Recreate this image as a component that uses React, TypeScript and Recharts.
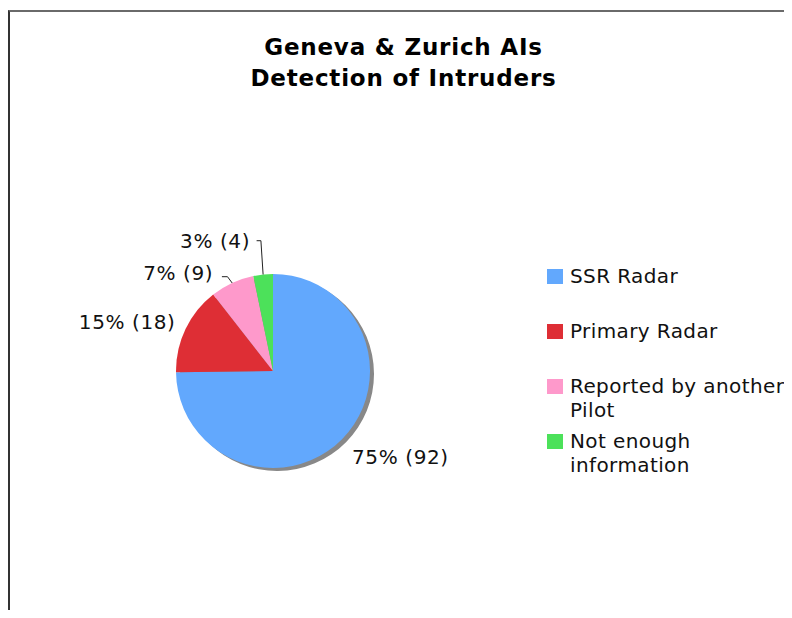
import { PieChart, Pie, Cell, Legend } from "recharts";

const categories = ["SSR Radar", "Primary Radar", "Reported by another Pilot", "Not enough information"];
const counts = [92, 18, 9, 4];
const colors = ["#62A8FD", "#DE2E35", "#FE99CB", "#4CE15A"];

const data = categories.map((name, i) => ({ name, value: counts[i] }));

const FONT = "'DejaVu Sans', Verdana, sans-serif";
const RAD = Math.PI / 180;

// label placement relative to the slice's outer edge point
const labelLayout = [
  { tx: 10, ty: 18, anchor: "start", line: [] as number[][] },
  { tx: -10, ty: -7, anchor: "end", line: [] as number[][] },
  { tx: -19, ty: -10, anchor: "end", line: [[-4.7, -6.3], [-10.3, -6.3]] },
  { tx: -13, ty: -33.5, anchor: "end", line: [[-2.2, -33.8], [-6.5, -33.8]] },
];

function renderLabel(props: any) {
  const { cx, cy, midAngle, outerRadius, percent, value, index } = props;
  const ex = cx + outerRadius * Math.cos(-midAngle * RAD);
  const ey = cy + outerRadius * Math.sin(-midAngle * RAD);
  const lay = labelLayout[index];
  const pts = [[0, 0], ...lay.line].map(([dx, dy]) => `${ex + dx},${ey + dy}`).join(" ");
  return (
    <g key={`lbl-${index}`}>
      {lay.line.length > 0 && (
        <polyline points={pts} fill="none" stroke="#222" strokeWidth={1} />
      )}
      <text
        x={ex + lay.tx}
        y={ey + lay.ty}
        textAnchor={lay.anchor as any}
        dominantBaseline="central"
        fill="#111"
        fontSize={20}
        fontFamily={FONT}
        letterSpacing={0.6}
      >
        {`${Math.round(percent * 100)}% (${value})`}
      </text>
    </g>
  );
}

function LegendContent() {
  return (
    <div style={{ fontFamily: FONT, fontSize: 20, letterSpacing: 0.4, color: "#111" }}>
      {data.map((d, i) => (
        <div key={d.name} style={{ height: 55, display: "flex", alignItems: "flex-start" }}>
          <div
            style={{
              width: 16,
              height: 15,
              marginTop: 5,
              marginRight: 7,
              background: colors[i],
              flexShrink: 0,
            }}
          />
          <div style={{ width: 216, lineHeight: "24px" }}>{d.name}</div>
        </div>
      ))}
    </div>
  );
}

export default function App() {
  return (
    <div
      style={{
        position: "relative",
        width: 784,
        height: 610,
        marginBottom: -8,
        overflow: "hidden",
        background: "#fff",
      }}
    >
      <div
        style={{
          position: "absolute",
          left: 0,
          top: 2,
          width: 820,
          height: 700,
          borderTop: "2px solid #6a6a6a",
          borderLeft: "2px solid #333",
        }}
      />
      <div
        style={{
          position: "absolute",
          left: 0,
          top: 24,
          width: 791,
          textAlign: "center",
          fontFamily: FONT,
          fontWeight: "bold",
          fontSize: 23,
          letterSpacing: 0.8,
          lineHeight: "31px",
          color: "#000",
        }}
      >
        <div>Geneva &amp; Zurich AIs</div>
        <div>Detection of Intruders</div>
      </div>
      <div style={{ position: "absolute", left: 0, top: 0 }}>
        <PieChart width={784} height={602} margin={{ top: 0, right: 0, bottom: 0, left: 0 }}>
          <Pie
            data={data}
            dataKey="value"
            nameKey="name"
            cx={269}
            cy={366}
            outerRadius={97}
            startAngle={90}
            endAngle={-270}
            stroke="none"
            legendType="none"
            isAnimationActive={false}
          >
            {data.map((d) => (
              <Cell key={`s-${d.name}`} fill="#888888" />
            ))}
          </Pie>
          <Pie
            data={data}
            dataKey="value"
            nameKey="name"
            cx={265}
            cy={363}
            outerRadius={97}
            startAngle={90}
            endAngle={-270}
            stroke="none"
            label={renderLabel}
            labelLine={false}
            isAnimationActive={false}
          >
            {data.map((d, i) => (
              <Cell key={d.name} fill={colors[i]} />
            ))}
          </Pie>
          <Legend
            layout="vertical"
            verticalAlign="top"
            align="right"
            content={() => <LegendContent />}
            wrapperStyle={{ position: "absolute", left: 539, top: 256, width: 245 }}
          />
        </PieChart>
      </div>
    </div>
  );
}
